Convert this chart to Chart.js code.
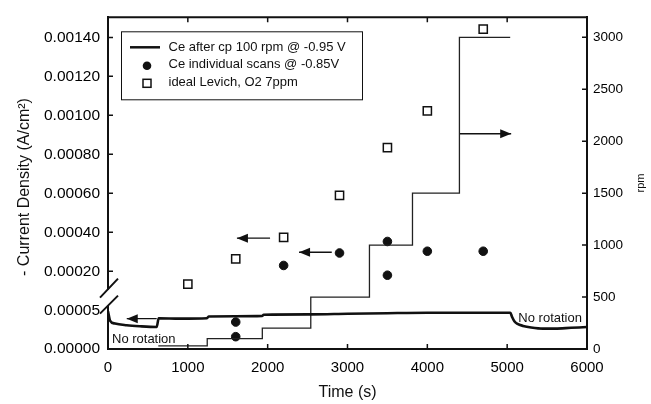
<!DOCTYPE html>
<html>
<head>
<meta charset="utf-8">
<script src="https://cdn.jsdelivr.net/npm/chart.js@4.4.0/dist/chart.umd.min.js"></script>
<style>body{margin:0;background:#fff}</style>
</head>
<body>
<canvas id="levichChart" width="651" height="404"></canvas>
<script>
// tick labels
var timeTicks = [0, 1000, 2000, 3000, 4000, 5000, 6000];
var lowCurrentTicks = [0, 0.00005];
var highCurrentTicks = [0.0002, 0.0004, 0.0006, 0.0008, 0.0010, 0.0012, 0.0014];
var rpmTicks = [0, 500, 1000, 1500, 2000, 2500, 3000];

// Ce after cp 100 rpm @ -0.95 V (continuous trace)
var filmTime = [0, 5, 25, 88, 234, 400, 610, 635, 900, 1240, 1260, 1600, 1930, 1950, 2540, 3000, 3500, 4000, 4500, 5040, 5060, 5090, 5130, 5200, 5300, 5450, 5600, 5800, 6000];
var filmCurrent = [0.000049, 0.0000465, 0.000037, 0.000033, 0.0000308, 0.0000295, 0.0000286, 0.00004, 0.0000394, 0.00004, 0.0000423, 0.0000425, 0.000043, 0.0000445, 0.000045, 0.0000458, 0.0000465, 0.000047, 0.000047, 0.000047, 0.000042, 0.000036, 0.0000325, 0.00003, 0.000028, 0.0000265, 0.0000265, 0.0000275, 0.0000285];

// Ce individual scans @ -0.85V
var scanTimeLow = [1600, 1600];
var scanCurrentLow = [0.000035, 0.000016];
var scanTimeHigh = [2200, 2900, 3500, 3500, 4000, 4700];
var scanCurrentHigh = [0.00023, 0.000294, 0.000353, 0.00018, 0.000303, 0.000303];

// ideal Levich, O2 7ppm
var levichTime = [1000, 1600, 2200, 2900, 3500, 4000, 4700];
var levichCurrent = [0.000134, 0.000264, 0.000374, 0.00059, 0.000834, 0.001023, 0.001442];

// rotation rate programme
var rpmTime = [630, 1243, 1933, 2540, 3275, 3814, 4402, 5038];
var rpmValue = [30, 100, 200, 500, 1000, 1500, 3000, 3000];

// arrows pointing at the axis each series belongs to
var arrowLowTime = [610, 235];
var arrowLowCurrent = [0.0000394, 0.0000394];
var arrowLevichTime = [2030, 1615];
var arrowLevichCurrent = [0.00037, 0.00037];
var arrowScanTime = [2803, 2393];
var arrowScanCurrent = [0.000298, 0.000298];
var arrowRpmTime = [4402, 5050];
var arrowRpmValue = [2072, 2072];

var ink = "#111";
var fontFamily = "'Liberation Sans', Arial, sans-serif";

function pts(xs, ys) {
  return xs.map(function (x, i) { return { x: x, y: ys[i] }; });
}
function fixedTicks(list) {
  return function (scale) {
    scale.ticks = list.map(function (v) { return { value: v }; });
  };
}
function arrowSet(xs, ys, axis) {
  return {
    label: "arrow",
    isArrow: true,
    data: pts(xs, ys),
    yAxisID: axis,
    borderColor: ink,
    borderWidth: 1.4,
    pointRadius: 0,
    showLine: true,
  };
}

var axisDecor = {
  id: "axisDecor",
  afterDraw: function (chart) {
    var ctx = chart.ctx;
    var a = chart.chartArea;
    var s = chart.scales;
    ctx.save();
    ctx.strokeStyle = ink;
    ctx.fillStyle = ink;

    // top frame line
    ctx.lineWidth = 2;
    ctx.beginPath();
    ctx.moveTo(a.left - 1, a.top);
    ctx.lineTo(a.right + 1, a.top);
    ctx.stroke();

    // inward tick marks
    ctx.lineWidth = 1.5;
    ctx.beginPath();
    timeTicks.forEach(function (v) {
      var px = s.x.getPixelForValue(v);
      if (v > 0 && v < 6000) {
        ctx.moveTo(px, a.bottom); ctx.lineTo(px, a.bottom - 5);
        ctx.moveTo(px, a.top); ctx.lineTo(px, a.top + 5);
      }
    });
    highCurrentTicks.forEach(function (v) {
      var py = s.yHigh.getPixelForValue(v);
      ctx.moveTo(a.left, py); ctx.lineTo(a.left + 5, py);
    });
    rpmTicks.forEach(function (v) {
      var py = s.yR.getPixelForValue(v);
      if (v > 0) { ctx.moveTo(a.right, py); ctx.lineTo(a.right - 5, py); }
    });
    ctx.stroke();

    // axis break
    var b = s.yHigh.bottom;
    ctx.fillStyle = "#fff";
    ctx.fillRect(a.left - 2, b - 8, 4, 16);
    ctx.lineWidth = 2;
    ctx.beginPath();
    ctx.moveTo(a.left - 8, b + 16); ctx.lineTo(a.left + 10, b - 2);
    ctx.moveTo(a.left - 8, b); ctx.lineTo(a.left + 10, b - 19);
    ctx.stroke();

    // arrow heads
    ctx.fillStyle = ink;
    chart.data.datasets.forEach(function (ds, i) {
      if (!ds.isArrow) return;
      var el = chart.getDatasetMeta(i).data;
      var p0 = el[0], p1 = el[1];
      var dir = p1.x > p0.x ? 1 : -1;
      ctx.beginPath();
      ctx.moveTo(p1.x, p1.y);
      ctx.lineTo(p1.x - dir * 11, p1.y - 4.5);
      ctx.lineTo(p1.x - dir * 11, p1.y + 4.5);
      ctx.closePath();
      ctx.fill();
    });

    // "No rotation" notes
    ctx.font = "13px " + fontFamily;
    ctx.textAlign = "left";
    ctx.textBaseline = "middle";
    ctx.fillText("No rotation", s.x.getPixelForValue(50), s.yLow.getPixelForValue(0.0000128));
    ctx.fillText("No rotation", s.x.getPixelForValue(5140), s.yLow.getPixelForValue(0.00004));

    // axis titles
    ctx.font = "16px " + fontFamily;
    ctx.textAlign = "center";
    ctx.fillText("Time (s)", (a.left + a.right) / 2, 393);
    ctx.save();
    ctx.translate(25, 187);
    ctx.rotate(-Math.PI / 2);
    ctx.fillText("- Current Density (A/cm\u00B2)", 0, 0);
    ctx.restore();
    ctx.save();
    ctx.font = "11px " + fontFamily;
    ctx.translate(641, 183);
    ctx.rotate(-Math.PI / 2);
    ctx.fillText("rpm", 0, 0);
    ctx.restore();

    // legend box
    var lx = a.left + 13, ly = a.top + 14;
    ctx.fillStyle = "#fff";
    ctx.fillRect(lx, ly, 241, 68);
    ctx.lineWidth = 1;
    ctx.strokeRect(lx + 0.5, ly + 0.5, 241, 68);
    ctx.fillStyle = ink;
    ctx.lineWidth = 2.5;
    ctx.beginPath();
    ctx.moveTo(lx + 9, ly + 16); ctx.lineTo(lx + 39, ly + 16);
    ctx.stroke();
    ctx.beginPath();
    ctx.arc(lx + 26, ly + 34.5, 4.3, 0, Math.PI * 2);
    ctx.fill();
    ctx.lineWidth = 1.5;
    ctx.strokeRect(lx + 22, ly + 48, 8, 8);
    ctx.font = "13px " + fontFamily;
    ctx.textAlign = "left";
    var names = ["Ce after cp 100 rpm @ -0.95 V", "Ce individual scans @ -0.85V", "ideal Levich, O2 7ppm"];
    names.forEach(function (t, i) {
      ctx.fillText(t, lx + 47.5, ly + 16 + i * 17.5);
    });
    ctx.restore();
  },
};

var ctx = document.getElementById("levichChart").getContext("2d");
var levichChart = new Chart(ctx, {
  type: "scatter",
  data: {
    datasets: [
      {
        label: "Ce after cp 100 rpm @ -0.95 V",
        data: pts(filmTime, filmCurrent),
        yAxisID: "yLow",
        showLine: true,
        borderColor: ink,
        borderWidth: 2.6,
        pointRadius: 0,
        cubicInterpolationMode: "monotone",
      },
      {
        label: "rpm",
        data: pts(rpmTime, rpmValue),
        yAxisID: "yR",
        showLine: true,
        stepped: "before",
        borderColor: "#222",
        borderWidth: 1.3,
        pointRadius: 0,
      },
      {
        label: "Ce individual scans @ -0.85V",
        data: pts(scanTimeLow, scanCurrentLow),
        yAxisID: "yLow",
        pointRadius: 4.3,
        backgroundColor: ink,
        borderColor: ink,
      },
      {
        label: "Ce individual scans @ -0.85V",
        data: pts(scanTimeHigh, scanCurrentHigh),
        yAxisID: "yHigh",
        pointRadius: 4.3,
        backgroundColor: ink,
        borderColor: ink,
      },
      {
        label: "ideal Levich, O2 7ppm",
        data: pts(levichTime, levichCurrent),
        yAxisID: "yHigh",
        pointStyle: "rect",
        pointRadius: 5.8,
        backgroundColor: "#fff",
        borderColor: ink,
        borderWidth: 1.5,
      },
      arrowSet(arrowLowTime, arrowLowCurrent, "yLow"),
      arrowSet(arrowLevichTime, arrowLevichCurrent, "yHigh"),
      arrowSet(arrowScanTime, arrowScanCurrent, "yHigh"),
      arrowSet(arrowRpmTime, arrowRpmValue, "yR"),
    ],
  },
  options: {
    responsive: false,
    animation: false,
    layout: { padding: { top: 13, left: 0, right: 0, bottom: 0 } },
    plugins: { legend: { display: false }, tooltip: { enabled: false } },
    scales: {
      x: {
        type: "linear",
        position: "bottom",
        min: 0,
        max: 6000,
        afterBuildTicks: fixedTicks(timeTicks),
        afterFit: function (s) { s.height = 55; },
        grid: { display: false, drawTicks: false },
        border: { color: ink, width: 2 },
        ticks: {
          padding: 10,
          color: "#000",
          maxRotation: 0,
          font: { size: 15, family: fontFamily },
          callback: function (v) { return String(v); },
        },
      },
      yLow: {
        type: "linear",
        position: "left",
        stack: "current",
        stackWeight: 52,
        min: 0,
        max: 0.00006667,
        afterBuildTicks: fixedTicks(lowCurrentTicks),
        afterFit: function (s) { s.width = 108; },
        grid: { display: false, drawTicks: false },
        border: { color: ink, width: 2 },
        ticks: {
          padding: 8,
          color: "#000",
          font: { size: 15.5, family: fontFamily },
          callback: function (v) { return v.toFixed(5); },
        },
      },
      yHigh: {
        type: "linear",
        position: "left",
        stack: "current",
        stackWeight: 284,
        min: 0.0000648,
        max: 0.001503,
        afterBuildTicks: fixedTicks(highCurrentTicks),
        afterFit: function (s) { s.width = 108; },
        grid: { display: false, drawTicks: false },
        border: { color: ink, width: 2 },
        ticks: {
          padding: 8,
          color: "#000",
          font: { size: 15.5, family: fontFamily },
          callback: function (v) { return v.toFixed(5); },
        },
      },
      yR: {
        type: "linear",
        position: "right",
        min: 0,
        max: 3193,
        afterBuildTicks: fixedTicks(rpmTicks),
        afterFit: function (s) { s.width = 64; },
        grid: { display: false, drawTicks: false },
        border: { color: ink, width: 2 },
        ticks: {
          padding: 6,
          color: "#000",
          font: { size: 13.5, family: fontFamily },
          callback: function (v) { return String(v); },
        },
      },
    },
  },
  plugins: [axisDecor],
});
</script>
</body>
</html>
